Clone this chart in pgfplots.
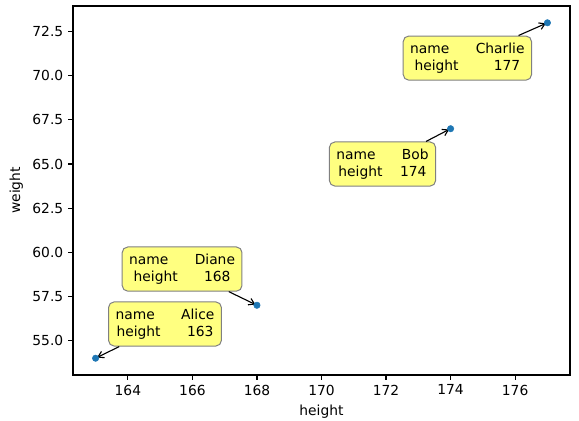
\documentclass[border=0pt]{standalone}
\usepackage{pgfplots}
\pgfplotsset{compat=1.18}
\usepackage{fontspec}
\setmainfont{DejaVu Sans}
\usetikzlibrary{arrows.meta}
\definecolor{tabblue}{HTML}{1F77B4}
\definecolor{boxfill}{HTML}{FFFF80}
\definecolor{boxedge}{HTML}{808080}
\begin{document}
\fontsize{10}{12}\selectfont
\begin{tikzpicture}[
  lbl/.style={draw=boxedge, fill=boxfill, rounded corners=4bp, line width=0.72bp,
    align=center, inner xsep=5bp, inner ysep=5bp, font=\fontsize{10}{12.2}\selectfont},
  arr/.style={-{Straight Barb[length=4bp,width=5bp]}, line width=0.8bp, shorten >=1.2bp}]
\useasboundingbox (-52.56bp,-33.12bp) rectangle (364.32bp,270bp);
\begin{axis}[
  at={(0,0)}, anchor=south west,
  scale only axis, width=357.84bp, height=265.68bp,
  xmin=162.3, xmax=177.7, ymin=53.05, ymax=73.95,
  xtick={164,166,...,176},
  ytick={55,57.5,...,72.5},
  yticklabel style={/pgf/number format/.cd, fixed, fixed zerofill, precision=1},
  /pgf/number format/assume math mode=true,
  tick align=outside, tick pos=left,
  major tick length=3.5bp,
  every tick/.style={black, line width=0.8bp},
  axis line style={line width=0.8bp},
  xlabel={height}, ylabel={weight},
  ticklabel style={font=\fontsize{10}{12}\selectfont},
  label style={font=\fontsize{10}{12}\selectfont},
  clip=false,
]
\addplot[only marks, mark=*, mark size=2.3bp, color=tabblue] coordinates {
  (163,54) (174,67) (177,73) (168,57)
};
\node[lbl] (A) at (axis cs:165.15,55.94) {name~~~~~~Alice\\height~~~~~~163};
\node[lbl] (D) at (axis cs:165.68,59.05) {name~~~~~~Diane\\height~~~~~~168};
\node[lbl] (B) at (axis cs:171.89,65.0) {name~~~~~~Bob\\height~~~~174};
\node[lbl] (C) at (axis cs:174.52,71.0) {name~~~~~~Charlie\\height~~~~~~~~177};
\draw[arr] (A) -- (axis cs:163,54);
\draw[arr] (D) -- (axis cs:168,57);
\draw[arr] (B) -- (axis cs:174,67);
\draw[arr] (C) -- (axis cs:177,73);
\end{axis}
\end{tikzpicture}
\end{document}
